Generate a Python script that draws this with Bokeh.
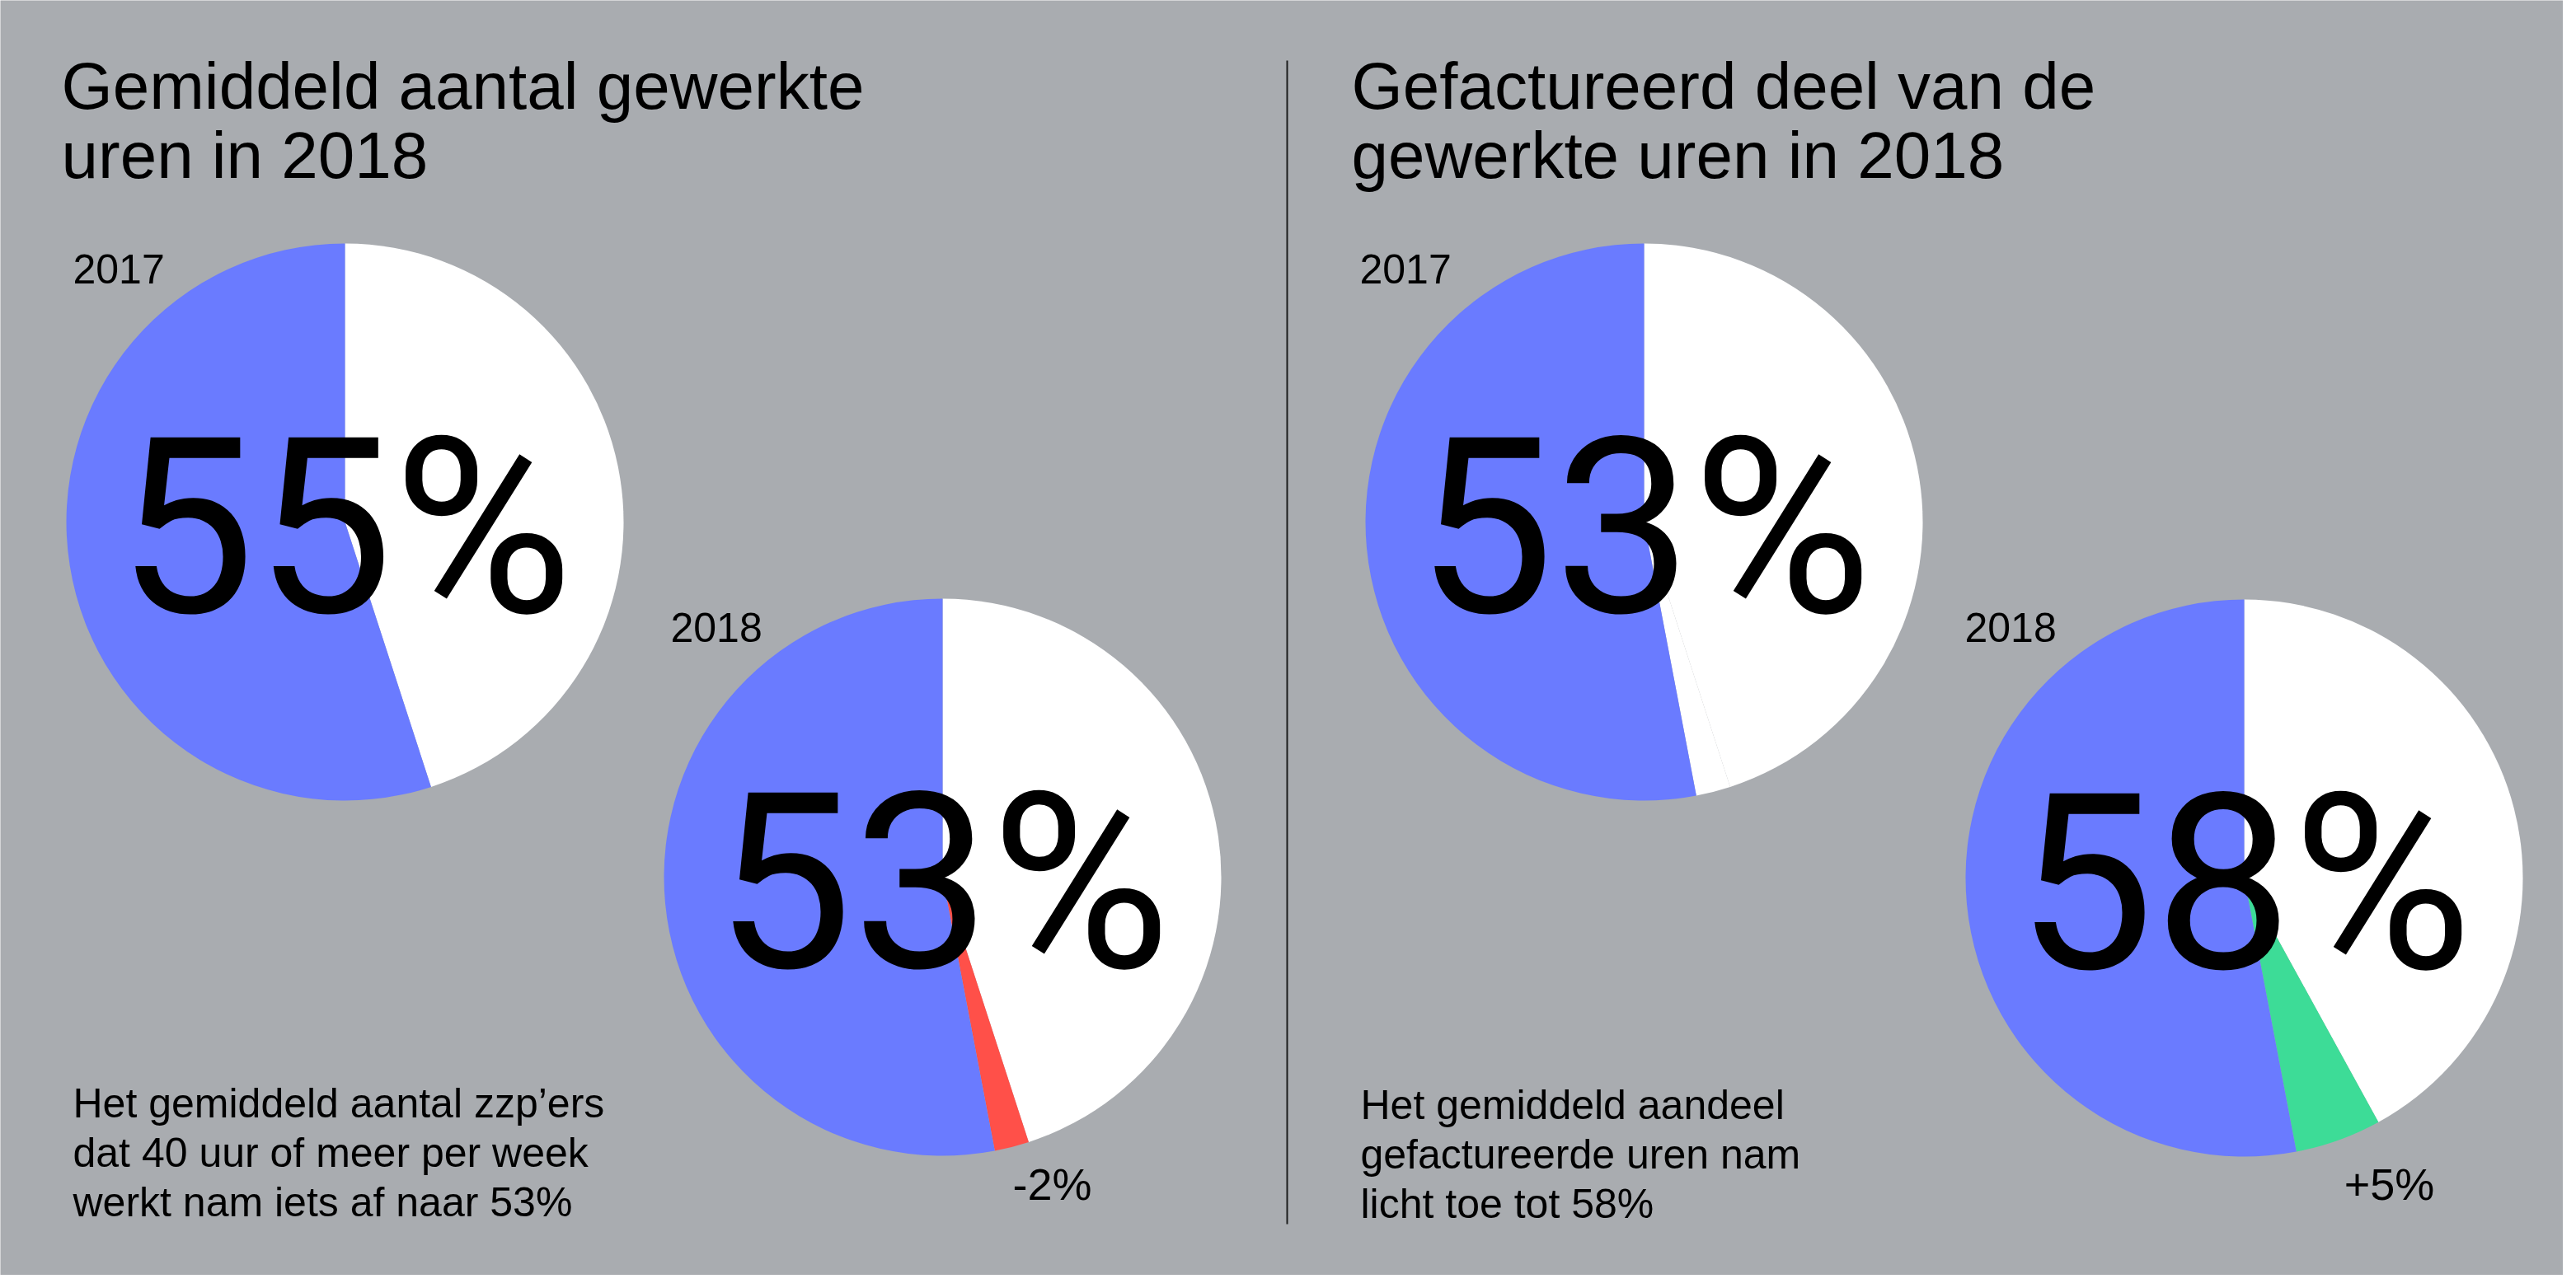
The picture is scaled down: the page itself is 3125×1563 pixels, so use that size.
import numpy as np
from bokeh.plotting import figure
from bokeh.models import Range1d, ColumnDataSource
from bokeh.core.properties import value
from bokeh.embed import file_html
from bokeh.resources import INLINE

# ---------------- data ----------------
title_left = ["Gemiddeld aantal gewerkte", "uren in 2018"]
title_right = ["Gefactureerd deel van de", "gewerkte uren in 2018"]
years = ["2017", "2018", "2017", "2018"]
big_labels = ["55%", "53%", "53%", "58%"]
# slices, clockwise from 12 o'clock: rest (white), change, base (blue)
rest_pct = [45, 45, 45, 42]
change_pct = [0, 2, 2, 5]
base_pct = [55, 53, 53, 53]
change_colors = ["#ffffff", "#ff5049", "#ffffff", "#3ddc97"]
change_labels = ["", "-2%", "", "+5%"]
note_left = ["Het gemiddeld aantal zzp\u2019ers", "dat 40 uur of meer per week", "werkt nam iets af naar 53%"]
note_right = ["Het gemiddeld aandeel", "gefactureerde uren nam", "licht toe tot 58%"]

# ---------------- layout ----------------
W, H = 3109, 1547
BG = "#a9acb0"
BLUE = "#6a7bff"
WHITE = "#ffffff"
FONT = "Liberation Sans"
BIGFONT = "Roboto"
K = 0.34  # empirical baseline correction (fraction of font size)


def Y(img_y):
    return 1563 - img_y


def TY(img_y, size):
    # baseline position for a text of given pixel size
    return Y(img_y) + K * size


centers = [(420, 635), (1145, 1066), (1996, 635), (2724, 1067)]
R = 338

p = figure(width=W, height=H, output_backend="svg", toolbar_location=None,
           x_range=Range1d(2, 3111), y_range=Range1d(14, 1561),
           min_border=0)
p.axis.visible = False
p.grid.visible = False
p.outline_line_color = None
p.background_fill_color = BG
p.border_fill_color = BG

# wedges
xs, ys, starts, ends, cols = [], [], [], [], []
for i, (cx, cy) in enumerate(centers):
    vals = [rest_pct[i], change_pct[i], base_pct[i]]
    colors = [WHITE, change_colors[i], BLUE]
    total = float(sum(vals))
    cum = 0.0
    for v, c in zip(vals, colors):
        if v <= 0:
            continue
        a = cum / total
        b = (cum + v) / total
        cum += v
        xs.append(cx)
        ys.append(Y(cy))
        starts.append(np.pi / 2 - 2 * np.pi * b)
        ends.append(np.pi / 2 - 2 * np.pi * a)
        cols.append(c)

src = ColumnDataSource(dict(x=xs, y=ys, start=starts, end=ends, color=cols))
p.wedge(x="x", y="y", radius=R, start_angle="start", end_angle="end",
        direction="anticlock", fill_color="color", line_color=None, source=src)

# big numbers, centred on each pie
BIG = 298
p.text(x=[c[0] for c in centers], y=[TY(c[1] + 109, BIG) for c in centers],
       text=big_labels, text_font=value(BIGFONT), text_font_size=f"{BIG}px",
       text_align="center", text_baseline="alphabetic", text_color="black")

# titles
TS = 80
for x0, lines in ((76, title_left), (1641, title_right)):
    p.text(x=[x0, x0], y=[TY(133, TS), TY(217, TS)], text=lines, text_font=value(FONT),
           text_font_size=f"{TS}px", text_align="left", text_baseline="alphabetic",
           text_color="black")

# year labels
LS = 50
year_pos = [(90, 345), (815, 780), (1651, 345), (2385, 780)]
p.text(x=[q[0] for q in year_pos], y=[TY(q[1], LS) for q in year_pos], text=years,
       text_font=value(FONT), text_font_size=f"{LS}px", text_align="left",
       text_baseline="alphabetic", text_color="black")

# change labels
CS = 54
chg_x = [0, 1278, 0, 2900]
cl_x = [chg_x[i] for i in range(4) if change_labels[i] and change_colors[i] != WHITE]
cl_t = [change_labels[i] for i in range(4) if change_labels[i] and change_colors[i] != WHITE]
p.text(x=cl_x, y=[TY(1457, CS)] * len(cl_x), text=cl_t, text_font=value(FONT),
       text_font_size=f"{CS}px", text_align="center", text_baseline="alphabetic",
       text_color="black")

# notes
NS = 50
for x0, lines, base in ((90, note_left, 1357), (1652, note_right, 1359)):
    p.text(x=[x0] * 3, y=[TY(base + 60 * k, NS) for k in range(3)], text=lines,
           text_font=value(FONT), text_font_size=f"{NS}px", text_align="left",
           text_baseline="alphabetic", text_color="black")

# divider
p.segment(x0=[1563], y0=[Y(75)], x1=[1563], y1=[Y(1487)], line_color="#1c1c1c",
          line_width=2)

open("out.html", "w").write(file_html(p, INLINE))
